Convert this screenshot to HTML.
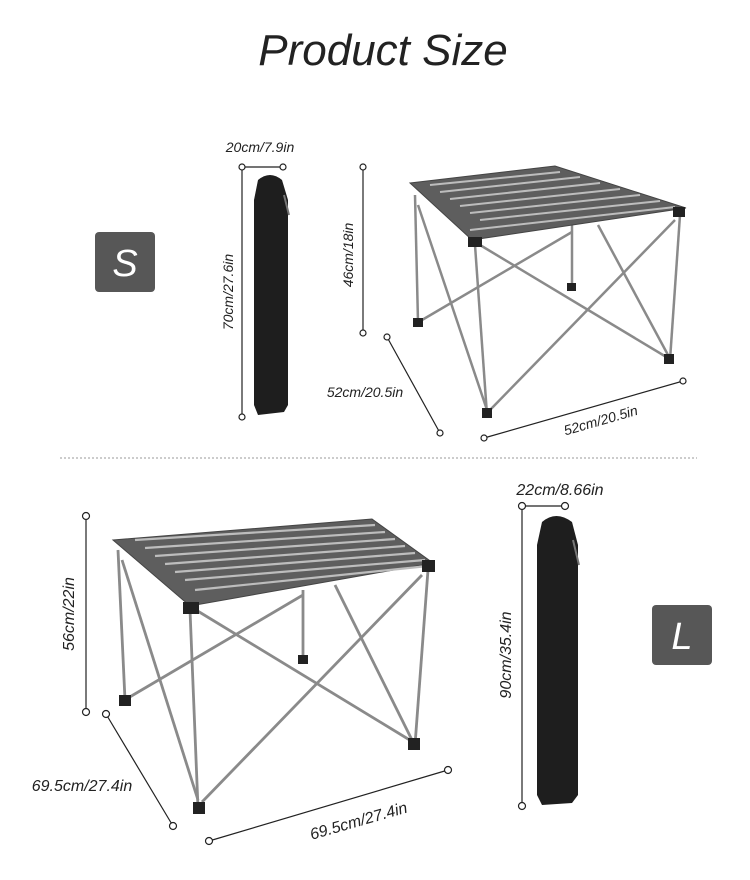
<!DOCTYPE html>
<html><head><meta charset="utf-8"><style>
html,body{margin:0;padding:0;background:#fff;}
svg{display:block;}
text{font-family:"Liberation Sans",sans-serif;font-style:italic;fill:#222;}
</style></head><body>
<svg width="750" height="880" viewBox="0 0 750 880" xmlns="http://www.w3.org/2000/svg">
<text x="383" y="65" font-size="44" text-anchor="middle" fill="#111">Product Size</text>

<!-- badges -->
<rect x="95" y="232" width="60" height="60" rx="4" fill="#575757"/>
<text x="125" y="276" font-size="38" text-anchor="middle" style="fill:#fff">S</text>
<rect x="652" y="605" width="60" height="60" rx="4" fill="#575757"/>
<text x="682" y="649" font-size="38" text-anchor="middle" style="fill:#fff">L</text>

<line x1="60" y1="458" x2="697" y2="458" stroke="#999" stroke-dasharray="2,2"/>

<g stroke="#222" stroke-width="1.2" fill="#fff">
<!-- S bag dims -->
<line x1="242" y1="167" x2="283" y2="167"/><line x1="242" y1="167" x2="242" y2="417"/>
<circle cx="242" cy="167" r="3"/><circle cx="283" cy="167" r="3"/><circle cx="242" cy="417" r="3"/>
<!-- S table dims -->
<line x1="363" y1="167" x2="363" y2="333"/><circle cx="363" cy="167" r="3"/><circle cx="363" cy="333" r="3"/>
<line x1="387" y1="337" x2="440" y2="433"/><circle cx="387" cy="337" r="3"/><circle cx="440" cy="433" r="3"/>
<line x1="484" y1="438" x2="683" y2="381"/><circle cx="484" cy="438" r="3"/><circle cx="683" cy="381" r="3"/>
<!-- L table dims -->
<line x1="86" y1="516" x2="86" y2="712"/><circle cx="86" cy="516" r="3.5"/><circle cx="86" cy="712" r="3.5"/>
<line x1="106" y1="714" x2="173" y2="826"/><circle cx="106" cy="714" r="3.5"/><circle cx="173" cy="826" r="3.5"/>
<line x1="209" y1="841" x2="448" y2="770"/><circle cx="209" cy="841" r="3.5"/><circle cx="448" cy="770" r="3.5"/>
<!-- L bag dims -->
<line x1="522" y1="506" x2="565" y2="506"/><line x1="522" y1="506" x2="522" y2="806"/>
<circle cx="522" cy="506" r="3.5"/><circle cx="565" cy="506" r="3.5"/><circle cx="522" cy="806" r="3.5"/>
</g>

<!-- labels -->
<text x="260" y="152" font-size="14" text-anchor="middle">20cm/7.9in</text>
<text transform="translate(233,292) rotate(-90)" font-size="14" text-anchor="middle">70cm/27.6in</text>
<text transform="translate(353,255) rotate(-90)" font-size="14" text-anchor="middle">46cm/18in</text>
<text x="365" y="397" font-size="14" text-anchor="middle">52cm/20.5in</text>
<text transform="translate(602,425) rotate(-16)" font-size="14" text-anchor="middle">52cm/20.5in</text>
<text transform="translate(74,614) rotate(-90)" font-size="16" text-anchor="middle">56cm/22in</text>
<text x="82" y="791" font-size="16" text-anchor="middle">69.5cm/27.4in</text>
<text transform="translate(360,826) rotate(-16)" font-size="16" text-anchor="middle">69.5cm/27.4in</text>
<text x="560" y="495" font-size="16" text-anchor="middle">22cm/8.66in</text>
<text transform="translate(511,655) rotate(-90)" font-size="16" text-anchor="middle">90cm/35.4in</text>

<!-- S bag -->
<path d="M258,180 Q270,170 282,180 L288,200 L288,405 L284,412 L258,415 L254,405 L254,200 Z" fill="#1e1e1e"/>
<line x1="284" y1="195" x2="289" y2="215" stroke="#777" stroke-width="2"/>
<!-- L bag -->
<path d="M542,522 Q556,510 572,522 L578,545 L578,795 L572,803 L542,805 L537,795 L537,545 Z" fill="#1e1e1e"/>
<line x1="573" y1="540" x2="579" y2="565" stroke="#777" stroke-width="2"/>

<!-- S table -->
<g stroke="#8a8a8a" stroke-width="2.5" fill="none">
<line x1="475" y1="245" x2="487" y2="415"/>
<line x1="680" y1="215" x2="670" y2="360"/>
<line x1="415" y1="195" x2="418" y2="322"/>
<line x1="572" y1="225" x2="572" y2="288"/>
<line x1="418" y1="205" x2="487" y2="410"/>
<line x1="480" y1="245" x2="668" y2="358"/>
<line x1="675" y1="220" x2="490" y2="410"/>
<line x1="422" y1="320" x2="572" y2="232"/>
<line x1="598" y1="225" x2="668" y2="355"/>
</g>
<polygon points="410,183 555,166 686,208 472,240" fill="#5e5e5e" stroke="#444"/>
<g stroke="#bdbdbd" stroke-width="2">
<line x1="430" y1="185" x2="560" y2="172"/><line x1="440" y1="192" x2="580" y2="177"/>
<line x1="450" y1="199" x2="600" y2="183"/><line x1="460" y1="206" x2="620" y2="189"/>
<line x1="470" y1="213" x2="640" y2="195"/><line x1="480" y1="220" x2="660" y2="201"/>
<line x1="470" y1="230" x2="675" y2="207"/>
</g>
<g fill="#222"><rect x="482" y="408" width="10" height="10"/><rect x="664" y="354" width="10" height="10"/><rect x="413" y="318" width="10" height="9"/><rect x="567" y="283" width="9" height="8"/><rect x="468" y="237" width="14" height="10"/><rect x="673" y="207" width="12" height="10"/></g>

<!-- L table -->
<g stroke="#8a8a8a" stroke-width="2.8" fill="none">
<line x1="190" y1="610" x2="198" y2="808"/>
<line x1="428" y1="570" x2="415" y2="745"/>
<line x1="118" y1="550" x2="125" y2="700"/>
<line x1="303" y1="590" x2="303" y2="660"/>
<line x1="122" y1="560" x2="198" y2="800"/>
<line x1="196" y1="610" x2="413" y2="742"/>
<line x1="422" y1="575" x2="202" y2="802"/>
<line x1="128" y1="698" x2="303" y2="595"/>
<line x1="335" y1="585" x2="412" y2="740"/>
</g>
<polygon points="113,540 372,519 433,563 190,606" fill="#5e5e5e" stroke="#444"/>
<g stroke="#bdbdbd" stroke-width="2.2">
<line x1="135" y1="540" x2="375" y2="525"/><line x1="145" y1="548" x2="385" y2="532"/>
<line x1="155" y1="556" x2="395" y2="539"/><line x1="165" y1="564" x2="405" y2="546"/>
<line x1="175" y1="572" x2="415" y2="553"/><line x1="185" y1="580" x2="425" y2="560"/>
<line x1="195" y1="590" x2="428" y2="566"/>
</g>
<g fill="#222"><rect x="193" y="802" width="12" height="12"/><rect x="408" y="738" width="12" height="12"/><rect x="119" y="695" width="12" height="11"/><rect x="298" y="655" width="10" height="9"/><rect x="183" y="602" width="16" height="12"/><rect x="422" y="560" width="13" height="12"/></g>
</svg>
</body></html>
